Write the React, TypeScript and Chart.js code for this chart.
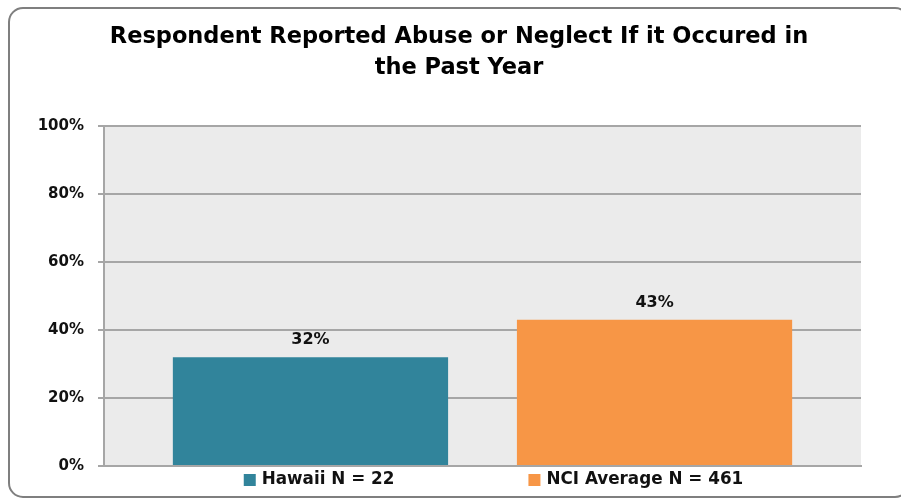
import React, { useEffect, useRef } from "react";
import { Chart, registerables } from "chart.js";

Chart.register(...registerables);

const categories = [""];
const seriesNames = ["Hawaii N = 22", "NCI Average N = 461"];
const hawaiiValues = [32];
const nciValues = [43];
const seriesColors = ["#31849B", "#F79646"];
const titleLines = ["Respondent Reported Abuse or Neglect If it Occured in", "the Past Year"];
const yTickValues = [0, 20, 40, 60, 80, 100];

const FONT = "'DejaVu Sans', sans-serif";

const framePlugin = {
  id: "frameAndBg",
  beforeDraw(chart: any) {
    const { ctx, chartArea } = chart;
    ctx.save();
    ctx.fillStyle = "#ffffff";
    ctx.fillRect(0, 0, chart.width, chart.height);
    ctx.strokeStyle = "#7F7F7F";
    ctx.lineWidth = 2;
    ctx.beginPath();
    (ctx as any).roundRect(9, 8, 900, 489, 14);
    ctx.stroke();
    ctx.fillStyle = "#EBEBEB";
    ctx.fillRect(chartArea.left, chartArea.top, chartArea.right - chartArea.left, chartArea.bottom - chartArea.top);
    ctx.restore();
  },
};

const valueLabelPlugin = {
  id: "valueLabels",
  afterDatasetsDraw(chart: any) {
    const { ctx } = chart;
    ctx.save();
    ctx.font = `bold 16px ${FONT}`;
    ctx.fillStyle = "#111111";
    ctx.textAlign = "center";
    ctx.textBaseline = "middle";
    chart.data.datasets.forEach((ds: any, di: number) => {
      const meta = chart.getDatasetMeta(di);
      meta.data.forEach((bar: any, i: number) => {
        ctx.fillText(`${ds.data[i]}%`, bar.x, bar.y - 17);
      });
    });
    ctx.restore();
  },
};

const legendPlugin = {
  id: "customLegend",
  afterDraw(chart: any) {
    const { ctx, chartArea } = chart;
    ctx.save();
    ctx.font = `bold 16.8px ${FONT}`;
    ctx.textBaseline = "middle";
    ctx.textAlign = "left";
    const box = 12;
    const boxGap = 6;
    const itemGap = 134;
    const widths = chart.data.datasets.map((ds: any) => box + boxGap + ctx.measureText(ds.label).width);
    const total = widths.reduce((a: number, b: number) => a + b, 0) + itemGap * (widths.length - 1);
    const cx = (chartArea.left + chartArea.right) / 2 + 11;
    const cy = chartArea.bottom + 14;
    let x = cx - total / 2;
    chart.data.datasets.forEach((ds: any, i: number) => {
      ctx.fillStyle = ds.backgroundColor;
      ctx.fillRect(x, cy - box / 2, box, box);
      ctx.fillStyle = "#111111";
      ctx.fillText(ds.label, x + box + boxGap, cy);
      x += widths[i] + itemGap;
    });
    ctx.restore();
  },
};

export default function App() {
  const ref = useRef<HTMLCanvasElement | null>(null);
  useEffect(() => {
    if (!ref.current) return;
    const chart = new Chart(ref.current, {
      type: "bar",
      data: {
        labels: categories,
        datasets: [
          { label: seriesNames[0], data: hawaiiValues, backgroundColor: seriesColors[0] },
          { label: seriesNames[1], data: nciValues, backgroundColor: seriesColors[1] },
        ],
      },
      options: {
        animation: false,
        responsive: true,
        maintainAspectRatio: false,
        layout: { padding: { left: 17, right: 0, top: 0, bottom: 35 } },
        datasets: { bar: { categoryPercentage: 0.909, barPercentage: 0.8 } },
        plugins: {
          legend: { display: false },
          tooltip: { enabled: false },
          title: {
            display: true,
            text: titleLines,
            color: "#000000",
            font: { family: FONT, size: 22.5, weight: "bold", lineHeight: 1.4 },
            padding: { top: 21, bottom: 42 },
          },
        },
        scales: {
          x: {
            ticks: { display: false },
            grid: { display: false },
            border: { display: true, color: "#A6A6A6", width: 2 },
            afterFit: (s: any) => {
              s.height = 0;
            },
          },
          y: {
            min: 0,
            max: 100,
            afterBuildTicks: (s: any) => {
              s.ticks = yTickValues.map((v) => ({ value: v }));
            },
            ticks: {
              padding: 14,
              color: "#111111",
              font: { family: FONT, size: 15, weight: "bold" },
              callback: (v: any) => `${v}%`,
            },
            grid: { color: "#A6A6A6", lineWidth: 2, tickLength: 6, drawTicks: true },
            border: { display: true, color: "#A6A6A6", width: 2 },
            afterFit: (s: any) => {
              s.width = 87;
            },
          },
          yRightSpace: {
            position: "right",
            min: 0,
            max: 100,
            ticks: { display: false },
            grid: { display: false, drawOnChartArea: false },
            border: { display: false },
            afterFit: (s: any) => {
              s.width = 40;
            },
          },
        },
      },
      plugins: [framePlugin, valueLabelPlugin, legendPlugin],
    });
    return () => chart.destroy();
  }, []);
  return (
    <div style={{ position: "fixed", left: 0, top: 0, width: 901, height: 501 }}>
      <canvas ref={ref} style={{ display: "block" }} />
    </div>
  );
}
